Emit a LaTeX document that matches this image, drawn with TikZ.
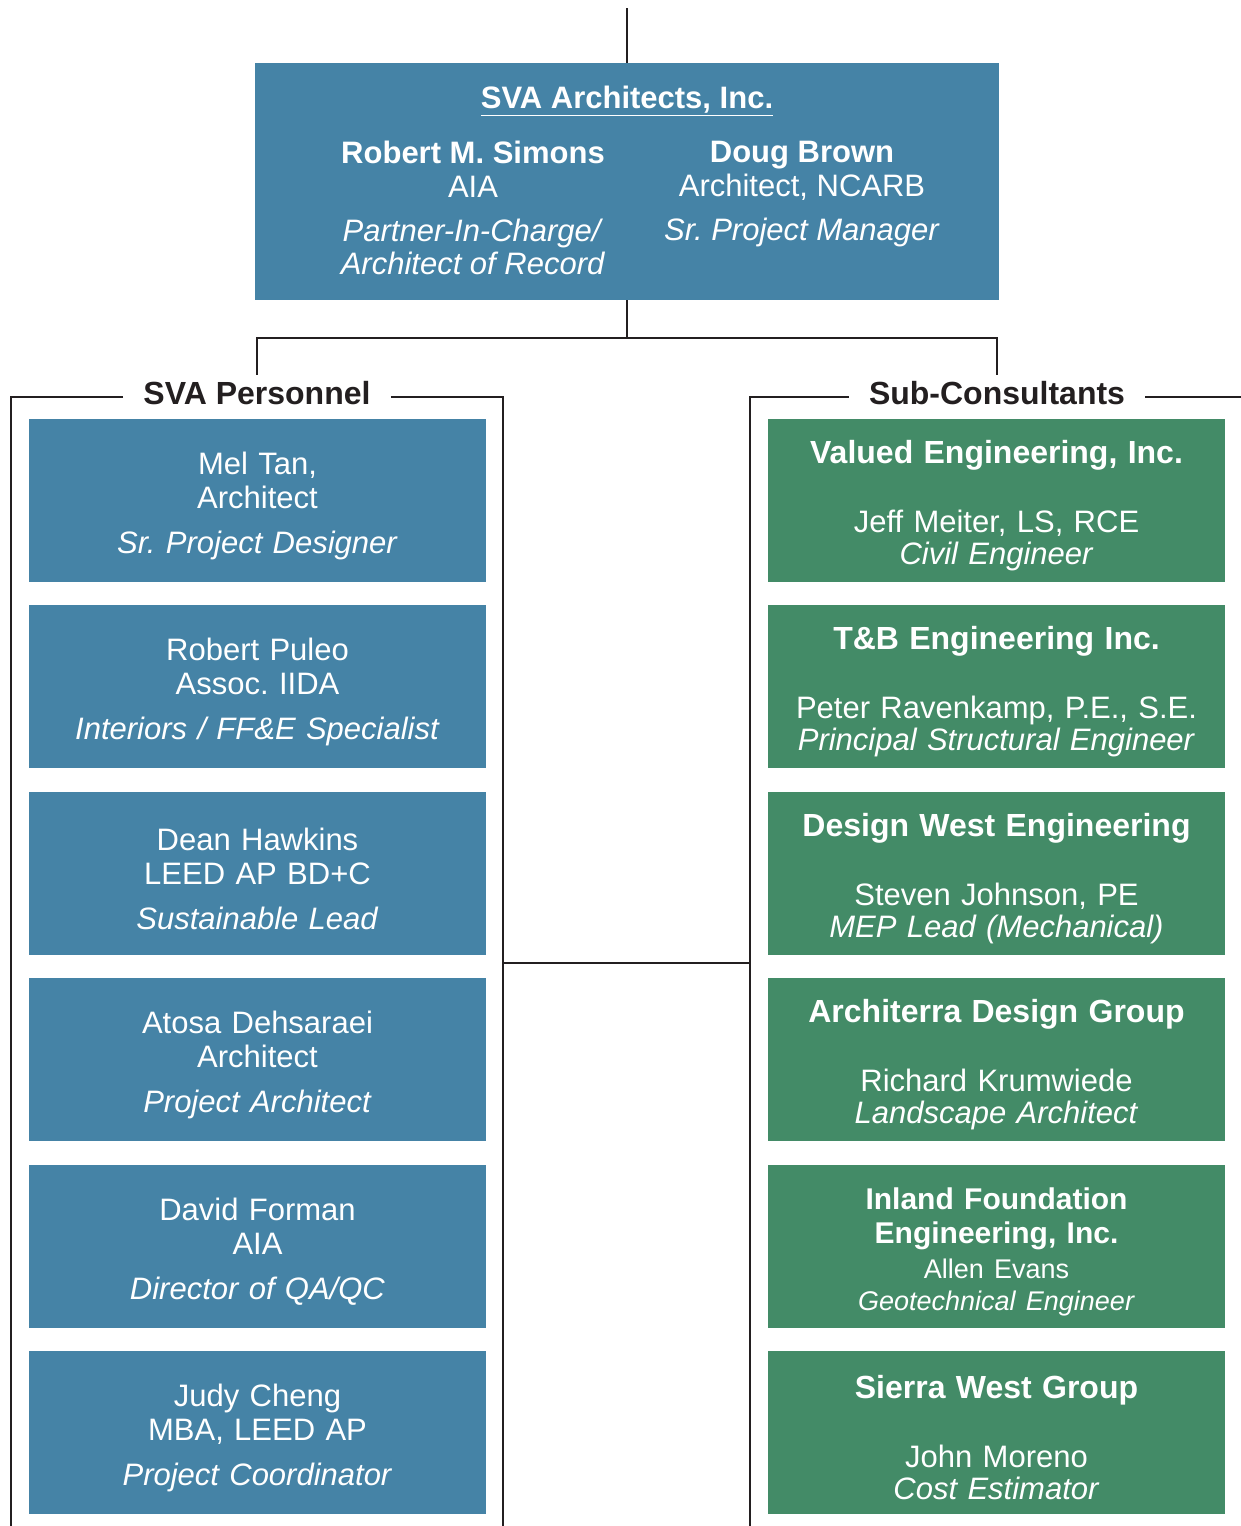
\documentclass[tikz,border=0pt]{standalone}
\usepackage{fontspec}
\setmainfont{Liberation Sans}
\frenchspacing
\definecolor{svablue}{HTML}{4583A6}
\definecolor{subgreen}{HTML}{438B67}
\definecolor{inkline}{HTML}{231F20}
\tikzstyle{staff} = [rectangle, fill=svablue, text=white, text width=225pt, align=center,
	minimum width=228.5pt, minimum height=81.5pt, inner sep=0pt, font=\fontsize{15.5}{17}\selectfont,
	execute at begin node={\rule{0pt}{16.5pt}}]
\tikzstyle{consultant} = [staff, fill=subgreen]
\tikzstyle{headtext} = [text=white, align=center, inner sep=0pt, font=\fontsize{15.5}{17}\selectfont]
\tikzstyle{group} = [text=inkline, inner xsep=10pt, inner ysep=3pt, font=\fontsize{16}{19}\selectfont\bfseries]
\tikzstyle{line} = [draw=inkline, line width=1.3pt]

\begin{document}
\begin{tikzpicture}[x=0.5pt, y=0.5pt, node distance=93.2pt]
		\useasboundingbox (0,0) rectangle (1241,-1526);
		%Place node
		\node [staff, minimum width=372pt, minimum height=118.5pt] (sva) at (627,-181.5) {};
		\node [headtext, anchor=base] (svatitle) at (627,-108) {\textbf{\underline{SVA Architects, Inc.}}};
		\node [headtext, anchor=north] (simons) at (473,-141) {\textbf{Robert M. Simons}\\AIA\\[5pt]\textit{Partner-In-Charge/}\\[-0.5pt]\textit{Architect of Record}};
		\node [headtext, anchor=north] (brown) at (802,-141) {\textbf{Doug Brown}\\Architect, NCARB\\[5pt]\textit{Sr. Project Manager}};
		
		\node [group] (perslbl) at (257,-393) {SVA Personnel};
		\node [group] (sublbl) at (997,-393) {Sub-Consultants};
		
		\node [staff] (tan) at (257.5,-500.5) {Mel Tan,\\Architect\\[5.5pt]\textit{Sr. Project Designer}};
		\node [staff, below of=tan] (puleo) {Robert Puleo\\Assoc. IIDA\\[5.5pt]\textit{Interiors / FF\&E Specialist}};
		\node [staff, below of=puleo] (hawkins) {Dean Hawkins\\LEED AP BD+C\\[5.5pt]\textit{Sustainable Lead}};
		\node [staff, below of=hawkins] (dehsaraei) {Atosa Dehsaraei\\Architect\\[5.5pt]\textit{Project Architect}};
		\node [staff, below of=dehsaraei] (forman) {David Forman\\AIA\\[5.5pt]\textit{Director of QA/QC}};
		\node [staff, below of=forman] (cheng) {Judy Cheng\\MBA, LEED AP\\[5.5pt]\textit{Project Coordinator}};
		
		\node [consultant] (valued) at (996.5,-500.5) {{\bfseries\fontsize{16}{17}\selectfont Valued Engineering, Inc.}\\[17.5pt]Jeff Meiter, LS, RCE\\[-1pt]\textit{Civil Engineer}};
		\node [consultant, below of=valued] (tb) {{\bfseries\fontsize{16}{17}\selectfont T\&B Engineering Inc.}\\[17.5pt]Peter Ravenkamp, P.E., S.E.\\[-1pt]\textit{Principal Structural Engineer}};
		\node [consultant, below of=tb] (dwe) {{\bfseries\fontsize{16}{17}\selectfont Design West Engineering}\\[17.5pt]Steven Johnson, PE\\[-1pt]\textit{MEP Lead (Mechanical)}};
		\node [consultant, below of=dwe] (architerra) {{\bfseries\fontsize{16}{17}\selectfont Architerra Design Group}\\[17.5pt]Richard Krumwiede\\[-1pt]\textit{Landscape Architect}};
		\node [consultant, below of=architerra] (inland) {{\bfseries\fontsize{15}{17}\selectfont Inland Foundation\\Engineering, Inc.}\\[1.5pt]{\fontsize{13.5}{16}\selectfont Allen Evans\\[-1pt]\textit{Geotechnical Engineer}}};
		\node [consultant, below of=inland] (sierra) {{\bfseries\fontsize{16}{17}\selectfont Sierra West Group}\\[17.5pt]John Moreno\\[-1pt]\textit{Cost Estimator}};
		
		\coordinate (top) at (627,-8);
		\coordinate (split) at (627,-338);
		\coordinate (lpanel) at (11,-397);
		\coordinate (lpanelend) at (11,-1526);
		\coordinate (rpanel) at (503,-397);
		\coordinate (rpanelend) at (503,-1526);
		\coordinate (cpanel) at (750,-397);
		\coordinate (cpanelend) at (750,-1526);
		\coordinate (cedge) at (1241,-397);
		\coordinate (lmid) at (503,-963);
		\coordinate (rmid) at (750,-963);
		
		%Draw edges
		\draw [line, line width=1pt] (top) -- (sva.north);
		\draw [line] (sva.south) -- (split);
		\draw [line] (perslbl.north) |- (split) -| (sublbl.north);
		
		\draw [line] (perslbl.west |- lpanel) -- (lpanel) -- (lpanelend);
		\draw [line] (perslbl.east |- rpanel) -- (rpanel) -- (rpanelend);
		\draw [line] (sublbl.west |- cpanel) -- (cpanel) -- (cpanelend);
		\draw [line] (sublbl.east |- cedge) -- (cedge);
		\draw [line] (lmid) -- (rmid);
		
	\end{tikzpicture}
\end{document}
